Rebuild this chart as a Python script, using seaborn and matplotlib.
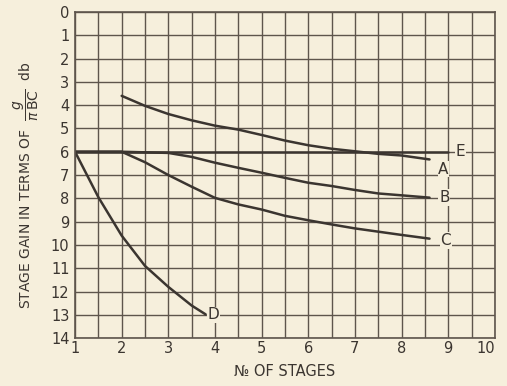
import numpy as np
import pandas as pd
import matplotlib
matplotlib.use("Agg")
import matplotlib.pyplot as plt
import seaborn as sns

# --------------------- Data ---------------------
stages_a = [2, 2.5, 3, 3.5, 4, 4.5, 5, 5.5, 6, 6.5, 7, 7.5, 8, 8.6]
gain_a = [3.6, 4.03, 4.38, 4.65, 4.88, 5.05, 5.28, 5.52, 5.72, 5.87, 5.98, 6.09, 6.16, 6.33]

stages_b = [1, 2, 3, 3.5, 4, 4.5, 5, 5.5, 6, 6.5, 7, 7.5, 8, 8.6]
gain_b = [6.0, 6.0, 6.05, 6.22, 6.47, 6.69, 6.9, 7.12, 7.33, 7.47, 7.64, 7.79, 7.87, 7.97]

stages_c = [1, 2, 2.5, 3, 3.5, 4, 4.5, 5, 5.5, 6, 6.5, 7, 7.5, 8, 8.6]
gain_c = [6.0, 6.0, 6.45, 7.0, 7.5, 7.98, 8.26, 8.48, 8.75, 8.94, 9.12, 9.29, 9.43, 9.57, 9.73]

stages_d = [1, 1.5, 2, 2.5, 3, 3.5, 3.8]
gain_d = [6.0, 7.95, 9.6, 10.9, 11.8, 12.6, 12.98]

stages_e = [1, 9.0]
gain_e = [6.0, 6.0]

curve_names = ["A", "B", "C", "D", "E"]
label_pos = {"A": (8.9, 6.75), "B": (8.92, 7.97), "C": (8.95, 9.8), "D": (3.97, 13.0), "E": (9.27, 6.0)}

x_ticks = list(range(1, 11))
y_ticks = list(range(0, 15))

# --------------------- Build table ---------------------
frames = []
for name, xs, ys in zip(curve_names,
                        [stages_a, stages_b, stages_c, stages_d, stages_e],
                        [gain_a, gain_b, gain_c, gain_d, gain_e]):
    frames.append(pd.DataFrame({"stages": xs, "gain": ys, "curve": name}))
df = pd.concat(frames, ignore_index=True)

# --------------------- Plot ---------------------
bg = "#f6efdc"
ink = "#3b3530"
grid_ink = "#5e554c"

sns.set_theme(style="white")
plt.rcParams["font.family"] = ["DejaVu Sans"]

fig = plt.figure(figsize=(5.07, 3.86), dpi=100, facecolor=bg)
ax = fig.add_axes([0.148, 0.124, 0.828, 0.845])
ax.set_facecolor(bg)

sns.lineplot(data=df, x="stages", y="gain", units="curve", estimator=None,
             color=ink, linewidth=1.8, sort=False, ax=ax, legend=False)

for name in curve_names:
    lx, ly = label_pos[name]
    ax.text(lx, ly, name, ha="center", va="center", fontsize=11, color=ink,
            bbox=dict(facecolor=bg, edgecolor="none", pad=0.6), zorder=5)

ax.set_xlim(1, 10)
ax.set_ylim(14, 0)

# grid every half stage, labels on whole stages only
half_steps = np.arange(1, 10.01, 0.5)
ax.set_xticks(half_steps)
ax.set_xticklabels([str(int(v)) if v in x_ticks else "" for v in half_steps])
ax.get_xticklabels()[-1].set_ha("right")
ax.set_yticks(y_ticks)
ax.set_yticklabels([str(v) for v in y_ticks])
ax.grid(True, color=grid_ink, linewidth=1.0)
ax.tick_params(axis="both", length=0, labelsize=10.5, colors=ink)
ax.tick_params(axis="x", pad=2)
ax.tick_params(axis="y", pad=4)
for s in ax.spines.values():
    s.set_color(grid_ink)
    s.set_linewidth(1.2)

ax.set_xlabel("№ OF STAGES", fontsize=10.5, color=ink, labelpad=6)
ax.set_ylabel(r"STAGE GAIN IN TERMS OF  $\dfrac{g}{\pi\,\mathrm{BC}}$  db", fontsize=10,
              color=ink)
ax.yaxis.set_label_coords(-0.082, 0.47)

fig.savefig("out.png", dpi=100, facecolor=bg)
